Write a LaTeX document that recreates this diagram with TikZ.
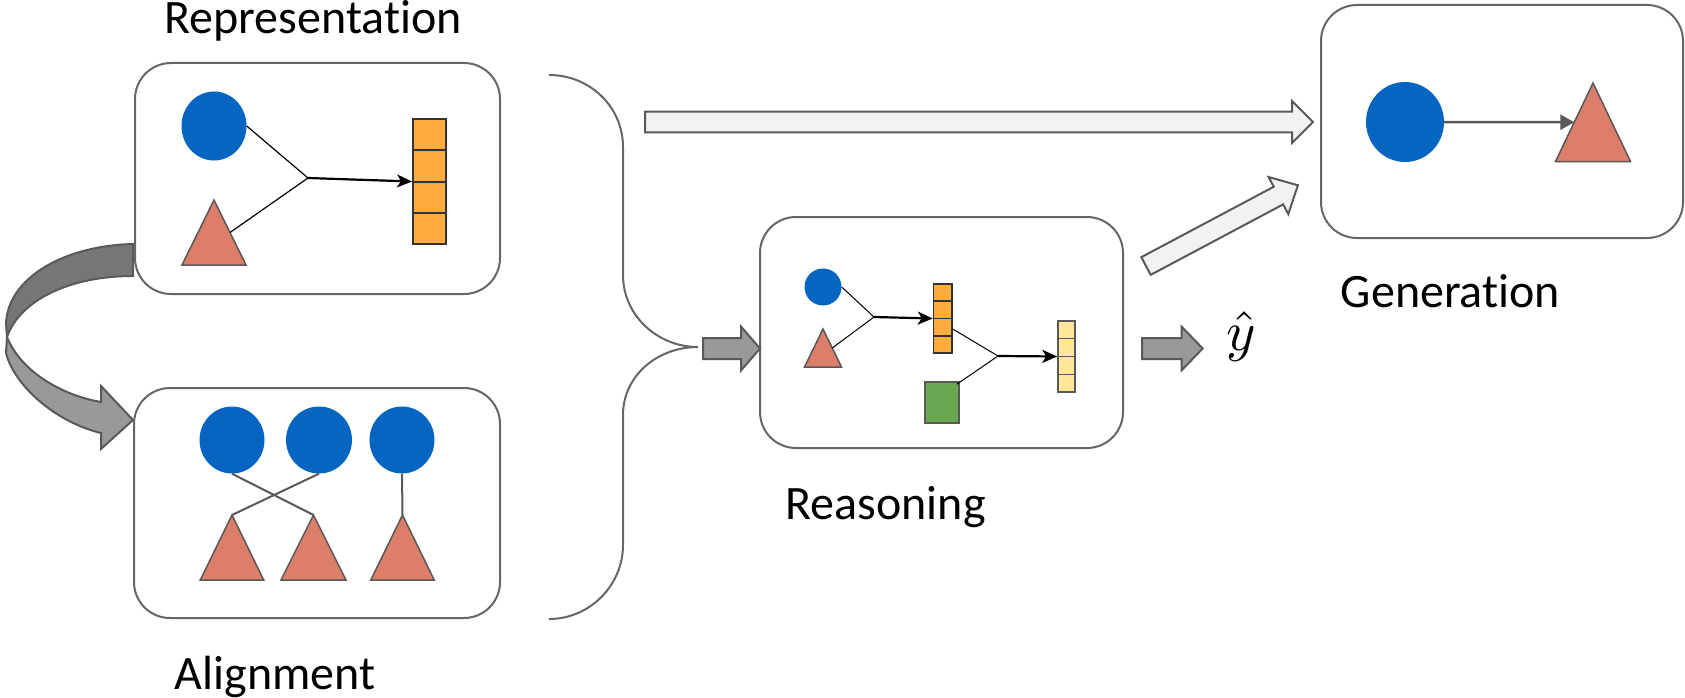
\documentclass[tikz,border=0pt]{standalone}
\usepackage{graphicx}
\usepackage{fontspec}
\setmainfont{Carlito}[Ligatures=NoCommon]
\usetikzlibrary{shapes.geometric,arrows.meta,calc}

\definecolor{edgegray}{HTML}{666666}
\definecolor{arrowgray}{HTML}{595959}
\definecolor{tokblue}{HTML}{0565C0}
\definecolor{tokred}{HTML}{DD7E6B}
\definecolor{vecorange}{HTML}{FFAB40}
\definecolor{vecyellow}{HTML}{FFE599}
\definecolor{featgreen}{HTML}{6AA84F}
\definecolor{paleblock}{HTML}{F2F2F2}
\definecolor{midblock}{HTML}{999999}
\definecolor{darkblock}{HTML}{767676}

\tikzset{
  panel/.style={draw=edgegray, line width=2, rounded corners=36, inner sep=0, fill=white},
  token/.style={ellipse, fill=tokblue, inner sep=0},
  tokentri/.style={fill=tokred, draw=arrowgray, line width=1.5, line join=miter},
  wire/.style={draw=black, line width=1.2},
  linkgray/.style={draw=arrowgray, line width=2},
  embed/.style={-{Stealth[length=15,width=13,inset=4]}, line width=2.2},
  blk/.style={draw=arrowgray, line width=2, line join=miter},
  headtext/.style={font=\fontsize{48}{56}\selectfont, inner sep=0, anchor=base},
}

% a stacked feature vector: name, centre, width, height, fill, outline, line width
\newcommand{\stackvec}[7]{%
  \node[draw=#6, fill=#5, line width=#7, minimum width=#3, minimum height=#4, inner sep=0] (#1) at #2 {};
  \foreach \k in {1,2,3}
    \draw[#6, line width=#7] ($(#1.north west)!\k/4!(#1.south west)$) -- ($(#1.north east)!\k/4!(#1.south east)$);
}
% an upward triangle token: apex name, apex, half base, height
\newcommand{\tokentriangle}[4]{%
  \coordinate (#1) at #2;
  \filldraw[tokentri] (#1) -- ++(-#3,#4) -- ++({2*#3},0) -- cycle;
}
% a straight block arrow: tail, angle, length, shaft half width, head half width, head length, fill
\newcommand{\blockarrow}[7]{%
  \begin{scope}[shift={(#1)}, rotate=#2]
    \filldraw[blk, fill=#7] (0,-#4) -- ({#3-#6},-#4) -- ({#3-#6},-#5) -- (#3,0)
      -- ({#3-#6},#5) -- ({#3-#6},#4) -- (0,#4) -- cycle;
  \end{scope}
}

\begin{document}
\begin{tikzpicture}[x=1pt, y=-1pt]
\useasboundingbox (0,0) rectangle (1685,698);

% curved arrow from Representation down to Alignment
\filldraw[blk, fill=darkblock] (133,244) .. controls (60,246) and (8,280) .. (6,323)
  -- (7,337) .. controls (20,300) and (70,276) .. (133,276) -- cycle;
\filldraw[blk, fill=midblock] (7,337) -- (6,353) .. controls (14,385) and (55,422) .. (101,433)
  -- (101,449) -- (133,420) -- (101,386) -- (101,402)
  .. controls (60,395) and (20,370) .. (7,337) -- cycle;

% panels
\node[panel, minimum width=365, minimum height=231] (rep) at (317.5,178.5) {};
\node[panel, minimum width=366, minimum height=230] (ali) at (317,503) {};
\node[panel, minimum width=363, minimum height=231] (rea) at (941.5,332.5) {};
\node[panel, minimum width=362, minimum height=233] (gen) at (1502,121.5) {};

% titles
\node[headtext] (reptitle) at (313,34) {Representation};
\node[headtext] (alititle) at (275,689) {Alignment};
\node[headtext] (reatitle) at (885.5,519.3) {Reasoning};
\node[headtext] (gentitle) at (1450.4,307.3) {Generation};

% Representation panel
\node[token, minimum width=65, minimum height=69] (rc) at (214,126) {};
\tokentriangle{rt}{(214,200)}{32}{65}
\coordinate (rj) at (308,178);
\stackvec{rv}{(429.5,181.5)}{33}{125}{vecorange}{black!80}{2}
\draw[wire] (rc.east) -- (rj);
\draw[wire] ($(rt)+(16,32.5)$) -- (rj);
\draw[embed] (rj) -- (rv.west);

% Alignment panel
\node[token, minimum width=65, minimum height=67] (ac1) at (232,440) {};
\node[token, minimum width=66, minimum height=67] (ac2) at (319,440) {};
\node[token, minimum width=65, minimum height=67] (ac3) at (402,440) {};
\tokentriangle{at1}{(232,515)}{31.7}{65}
\tokentriangle{at2}{(313.5,515)}{32.5}{65}
\tokentriangle{at3}{(402.5,515)}{31.7}{65}
\draw[linkgray] (ac1.south) -- (at2);
\draw[linkgray] (ac2.south) -- (at1);
\draw[linkgray] (ac3.south) -- (at3);

% Reasoning panel
\node[token, minimum width=37, minimum height=37] (qc) at (823,287) {};
\tokentriangle{qt}{(823,329)}{18.5}{38}
\coordinate (qj1) at (874,317);
\coordinate (qj2) at (998,356);
\stackvec{qv1}{(942.75,318.5)}{18.5}{69}{vecorange}{black!80}{1.5}
\stackvec{qv2}{(1066.5,356.5)}{17}{71}{vecyellow}{arrowgray}{1.5}
\node[draw=arrowgray, fill=featgreen, line width=1.5, minimum width=34, minimum height=41, inner sep=0] (qg) at (942,402.5) {};
\draw[wire, line width=1] (qc.east) -- (qj1);
\draw[wire, line width=1] ($(qt)+(9.25,19)$) -- (qj1);
\draw[embed] (qj1) -- (qv1.west);
\draw[wire, line width=1] ($(qv1.east)+(0,10.5)$) -- (qj2);
\draw[wire, line width=1] ($(qg.north east)+(-3,3)$) -- (qj2);
\draw[embed] (qj2) -- (qv2.west);

% Generation panel
\node[token, minimum width=78, minimum height=80] (gc) at (1405,122) {};
\tokentriangle{gt}{(1593,83)}{37.5}{78.5}
\draw[arrowgray, line width=2.5, -{Triangle[length=14,width=15]}] (gc.east) -- ($(gt)+(-18.75,39.25)$);

% brace merging Representation and Alignment
\coordinate (bt) at (698,347);
\draw[edgegray, line width=2] (549,75) .. controls (590,75) and (623,107) .. (623,147)
  -- (623,275) .. controls (623,315) and (657,347) .. (bt)
  .. controls (657,347) and (623,376) .. (623,415)
  -- (623,545) .. controls (623,585) and (590,619) .. (549,619);

% block arrows
\coordinate (longtail) at (645,122);
\coordinate (diagtail) at (1146,266);
\coordinate (intail) at (703,348.5);
\coordinate (outtail) at (1142,348.5);
\blockarrow{longtail}{0}{668}{10.3}{21}{21}{paleblock}
\blockarrow{diagtail}{28}{172}{10}{21}{22}{paleblock}
\blockarrow{intail}{0}{57}{10.5}{22}{19}{midblock}
\blockarrow{outtail}{0}{60.7}{10.5}{21.7}{21}{midblock}

% prediction
\node[inner sep=0, anchor=base] (yhat) at (1241,350) {\scalebox{5.6}{$\hat{y}$}};
\end{tikzpicture}
\end{document}
